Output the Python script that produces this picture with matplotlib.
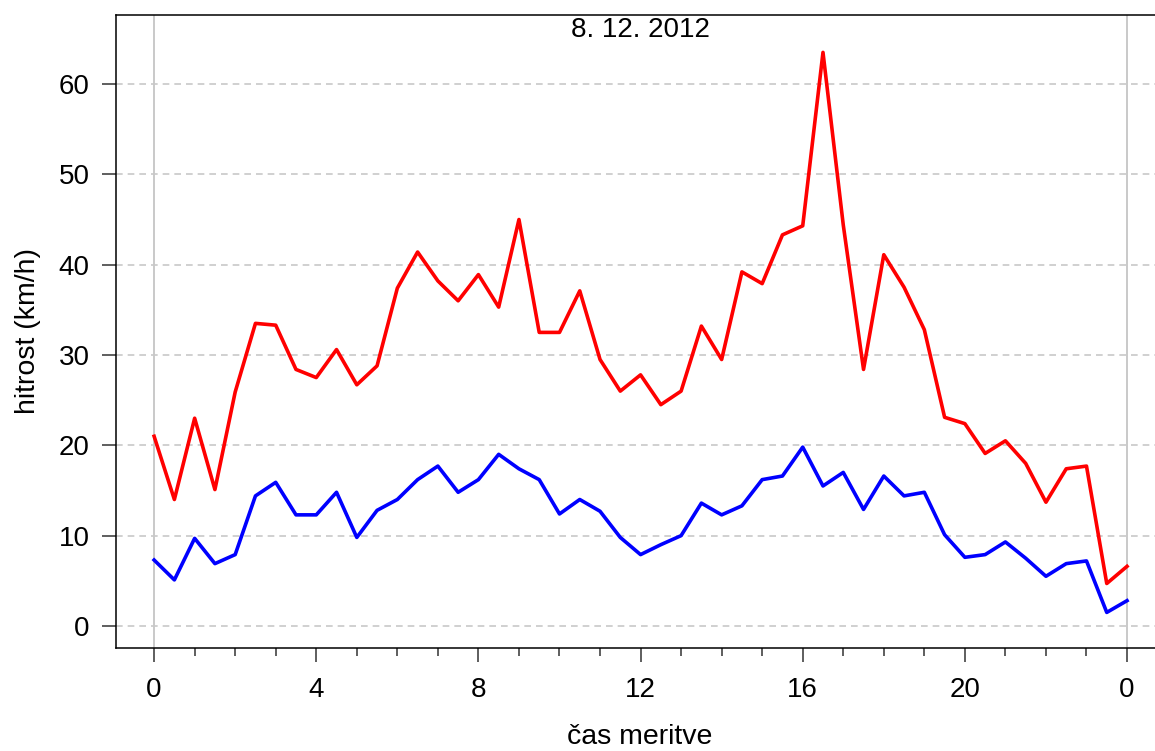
import numpy as np
import matplotlib
matplotlib.use('Agg')
import matplotlib.pyplot as plt
import matplotlib.transforms as mtransforms

plt.rcParams['font.family'] = ['Liberation Sans', 'DejaVu Sans']

# čas meritve (ure, vsake pol ure)
ure = np.arange(49) * 0.5

# največja hitrost sunkov (rdeča) in povprečna hitrost (modra), km/h
sunki = [21.0, 14.0, 23.0, 15.1, 25.9, 33.5, 33.3, 28.4, 27.5, 30.6,
         26.7, 28.8, 37.4, 41.4, 38.2, 36.0, 38.9, 35.3, 45.0, 32.5,
         32.5, 37.1, 29.5, 26.0, 27.8, 24.5, 26.0, 33.2, 29.5, 39.2,
         37.9, 43.3, 44.3, 63.5, 44.4, 28.4, 41.1, 37.5, 32.8, 23.1,
         22.4, 19.1, 20.5, 18.0, 13.7, 17.4, 17.7, 4.7, 6.6]
povprecje = [7.3, 5.1, 9.7, 6.9, 7.9, 14.4, 15.9, 12.3, 12.3, 14.8,
             9.8, 12.8, 14.0, 16.2, 17.7, 14.8, 16.2, 19.0, 17.4, 16.2,
             12.4, 14.0, 12.7, 9.8, 7.9, 9.0, 10.0, 13.6, 12.3, 13.3,
             16.2, 16.6, 19.8, 15.5, 17.0, 12.9, 16.6, 14.4, 14.8, 10.1,
             7.6, 7.9, 9.3, 7.5, 5.5, 6.9, 7.2, 1.5, 2.8]

xticks = [0, 4, 8, 12, 16, 20, 24]
xlabels = ['0', '4', '8', '12', '16', '20', '0']
yticks = [0, 10, 20, 30, 40, 50, 60]

fig = plt.figure(figsize=(11.55, 7.51), dpi=100)
ax = fig.add_axes([116 / 1155, 103 / 751, 1 - 116 / 1155, 633 / 751])

# navpične črte na začetku in koncu dneva
for xv in (0, 24):
    ax.axvline(xv, color='#c0c0c0', lw=1.2, zorder=1)
for yv in yticks:
    ax.axhline(yv, color='#c8c8c8', lw=1.2, ls=(0, (4, 3)), zorder=1)

ax.plot(ure, sunki, color='#ff0000', lw=2.6, zorder=3)
ax.plot(ure, povprecje, color='#0000ff', lw=2.6, zorder=3)

ax.set_xlim(-0.94, 24.69)
ax.set_ylim(-2.44, 67.64)

ax.set_xticks(xticks)
ax.set_xticklabels(xlabels)
ax.set_xticks(np.arange(0, 25, 1), minor=True)
ax.set_yticks(yticks)

ax.tick_params(axis='both', labelsize=20, direction='out', colors='#333333',
               labelcolor='black', width=1.1)
ax.tick_params(axis='x', which='major', length=10, pad=11)
ax.tick_params(axis='x', which='minor', length=5.5, width=1.1, colors='#333333')
ax.tick_params(axis='y', length=10, pad=9)

for s in ('left', 'bottom', 'top'):
    ax.spines[s].set_linewidth(1.1)
    ax.spines[s].set_color('black')
ax.spines['right'].set_visible(False)

ax.set_ylabel('hitrost (km/h)', fontsize=20.5)
ax.set_xlabel('čas meritve', fontsize=20.5)
ax.yaxis.set_label_coords(-0.072, 0.5)
ax.xaxis.set_label_coords((640 - 116) / 1039, -0.12)

trans = mtransforms.blended_transform_factory(ax.transData, ax.transAxes)
ax.text(12, 0.997, '8. 12. 2012', transform=trans, ha='center', va='top',
        fontsize=20)

fig.savefig('out.png', dpi=100)
